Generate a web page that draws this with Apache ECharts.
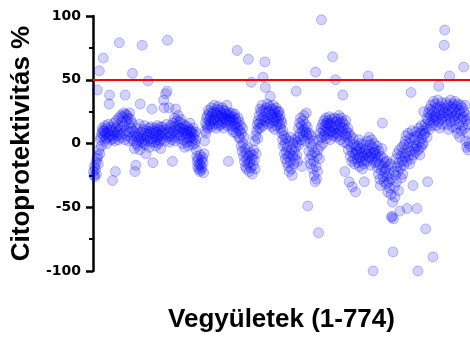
<!DOCTYPE html>
<html>
<head>
<meta charset="utf-8">
<script src="https://cdn.jsdelivr.net/npm/echarts@6/dist/echarts.min.js"></script>
<style>
  html, body { margin: 0; padding: 0; background: #fff; }
  #main { width: 470px; height: 338px; }
</style>
</head>
<body>
<div id="main"></div>
<script>
// y-tengely és címek
const yTicks = [-100, -50, 0, 50, 100]
const threshold = 50
const xTitle = 'Vegyületek (1-774)'
const yTitle = 'Citoprotektivitás %'

// citoprotektivitás értékek, 774 vegyület (a képről becsülve)
const cyto = [
  -22,-25,-18,-26,-20,-15,-24,-12,42,-10,-16,-5,57,-8,3,5,-2,8,12,10,
  67,6,10,2,14,8,4,12,0,9,15,5,31,38,7,11,3,13,6,-29,
  10,4,16,8,2,-22,12,18,6,9,14,3,20,79,11,7,22,5,17,13,
  21,8,24,14,3,38,23,10,18,22,6,20,2,15,24,9,19,12,4,16,
  55,10,2,6,-4,-22,8,-17,0,12,5,-2,7,3,15,-5,31,4,9,1,
  77,6,11,0,3,14,-1,8,-8,5,10,2,49,7,12,-3,9,4,13,1,
  27,8,-15,4,10,1,12,6,-2,9,3,14,5,0,11,7,2,13,-4,6,
  10,4,13,8,34,28,2,11,39,7,15,41,81,5,9,28,1,12,6,14,
  8,3,-14,16,10,5,20,13,2,27,11,18,7,14,22,9,4,17,12,19,
  6,12,0,9,15,3,11,-3,8,14,5,10,1,13,7,-2,11,4,16,9,
  5,10,2,8,-1,12,4,7,0,9,3,-5,-10,-14,-18,-12,-20,-16,-22,-9,
  -17,-21,-13,-19,-11,-15,-23,-8,2,10,16,8,20,14,22,12,26,18,24,15,
  21,17,28,13,23,19,25,15,30,20,18,24,12,27,22,16,29,21,14,26,
  19,24,15,22,28,17,21,12,26,20,23,16,25,18,30,14,22,-14,19,24,
  17,22,14,20,11,24,18,9,21,15,23,13,19,8,16,73,12,20,5,17,
  10,4,14,-2,8,-6,12,0,-10,5,-14,-4,-18,-8,-20,-12,-3,-16,66,-10,
  -22,-15,-7,-19,48,-12,-24,-9,-17,-5,-13,2,-20,6,-8,10,15,4,18,12,
  22,16,27,12,25,19,30,14,52,21,26,18,64,44,24,28,17,31,20,15,
  25,19,29,37,16,23,27,13,21,30,18,24,11,26,20,28,14,22,17,25,
  20,25,15,22,12,18,8,16,3,10,-2,6,-8,0,-12,4,-6,-15,-3,-10,
  -18,2,-22,-8,-14,5,-20,-5,-25,-10,0,-16,-6,3,-12,-3,41,-9,1,-14,
  5,12,-1,16,8,20,3,14,-18,10,18,6,22,11,2,15,9,24,7,13,
  -49,4,-6,8,-12,0,-16,6,-9,-3,-20,2,-14,-25,-7,-30,56,-18,-28,-10,
  -22,-5,-70,3,-12,8,-2,12,97,5,15,0,10,18,6,14,9,20,4,16,
  12,18,7,15,21,10,3,16,9,13,19,68,6,14,11,20,8,50,17,5,
  14,8,19,11,22,6,16,3,13,20,9,17,38,12,1,15,-22,7,18,10,
  5,0,12,-5,8,-30,2,-10,6,-3,-14,-34,-7,4,-12,-1,-16,-8,-38,-4,
  -6,-12,-2,-15,-9,3,-18,-4,-11,0,-14,-7,-20,-1,-10,-16,-30,-5,-13,-8,
  -4,-9,2,-14,53,-6,5,-11,-1,-17,-8,3,-12,-3,-100,-7,0,-15,-5,-10,
  -8,-14,-2,-19,-11,-24,-6,-16,-28,-33,-10,-21,-4,16,-18,-26,-12,-30,-22,-15,
  -20,-32,-14,-26,-38,-18,-30,-24,-35,-16,-28,-40,-58,-57,-46,-85,-59,-22,-34,-42,
  -25,-12,-30,-18,-8,-22,-37,-15,-5,-53,-19,-10,-27,-3,-14,-24,-7,-17,-1,-11,
  2,-8,6,-14,-51,-3,8,-10,0,-16,4,-6,40,-12,10,-2,-33,-9,5,-4,
  3,-7,9,-2,-51,6,-100,-5,12,1,-9,8,-3,14,4,-1,10,0,25,7,
  8,15,-67,12,20,5,-30,18,24,11,27,16,22,30,14,26,19,-89,33,21,
  25,18,31,22,14,28,20,34,17,45,26,12,29,23,19,32,15,27,21,24,
  77,89,28,19,32,24,15,30,22,11,26,53,20,34,17,29,25,13,31,21,
  27,18,33,22,12,29,24,8,31,20,15,26,5,23,30,10,19,28,14,21,
  60,25,12,30,2,18,-3,22,8,-5,15,0,20,-2
]

const points = cyto.map((v, i) => [i + 1, v])

const chart = echarts.init(document.getElementById('main'))

chart.setOption({
  backgroundColor: '#fff',
  animation: false,
  textStyle: { fontFamily: 'Liberation Sans, Arial, sans-serif' },
  grid: { left: 93, right: -3, top: 16, bottom: 66 },
  xAxis: {
    type: 'value',
    min: 0,
    max: cyto.length,
    name: xTitle,
    nameLocation: 'middle',
    nameGap: 36,
    nameTextStyle: { fontSize: 26, fontWeight: 'bold', color: '#000' },
    axisLine: { show: false },
    axisTick: { show: false },
    axisLabel: { show: false },
    splitLine: { show: false }
  },
  yAxis: {
    type: 'value',
    min: yTicks[0],
    max: yTicks[yTicks.length - 1],
    interval: 50,
    name: yTitle,
    nameLocation: 'middle',
    nameGap: 55,
    nameTextStyle: { fontSize: 26, fontWeight: 'bold', color: '#000' },
    axisLine: { show: true, lineStyle: { color: '#000', width: 2.5 } },
    axisTick: { show: true, length: 7, lineStyle: { color: '#000', width: 2.5 } },
    minorTick: { show: true, splitNumber: 2, length: 4, lineStyle: { color: '#000', width: 2 } },
    axisLabel: {
      fontSize: 14,
      fontWeight: 'bold',
      fontFamily: 'DejaVu Sans',
      color: '#000',
      margin: 12
    },
    splitLine: { show: false }
  },
  series: [
    {
      type: 'scatter',
      data: points,
      symbol: 'circle',
      symbolSize: 10,
      itemStyle: {
        color: 'rgba(0, 0, 255, 0.22)',
        borderColor: 'rgba(0, 0, 255, 0.3)',
        borderWidth: 1
      },
      markLine: {
        silent: true,
        symbol: 'none',
        label: { show: false },
        lineStyle: { color: '#ff0000', width: 2, type: 'solid' },
        data: [{ yAxis: threshold }]
      }
    }
  ]
})
</script>
</body>
</html>
